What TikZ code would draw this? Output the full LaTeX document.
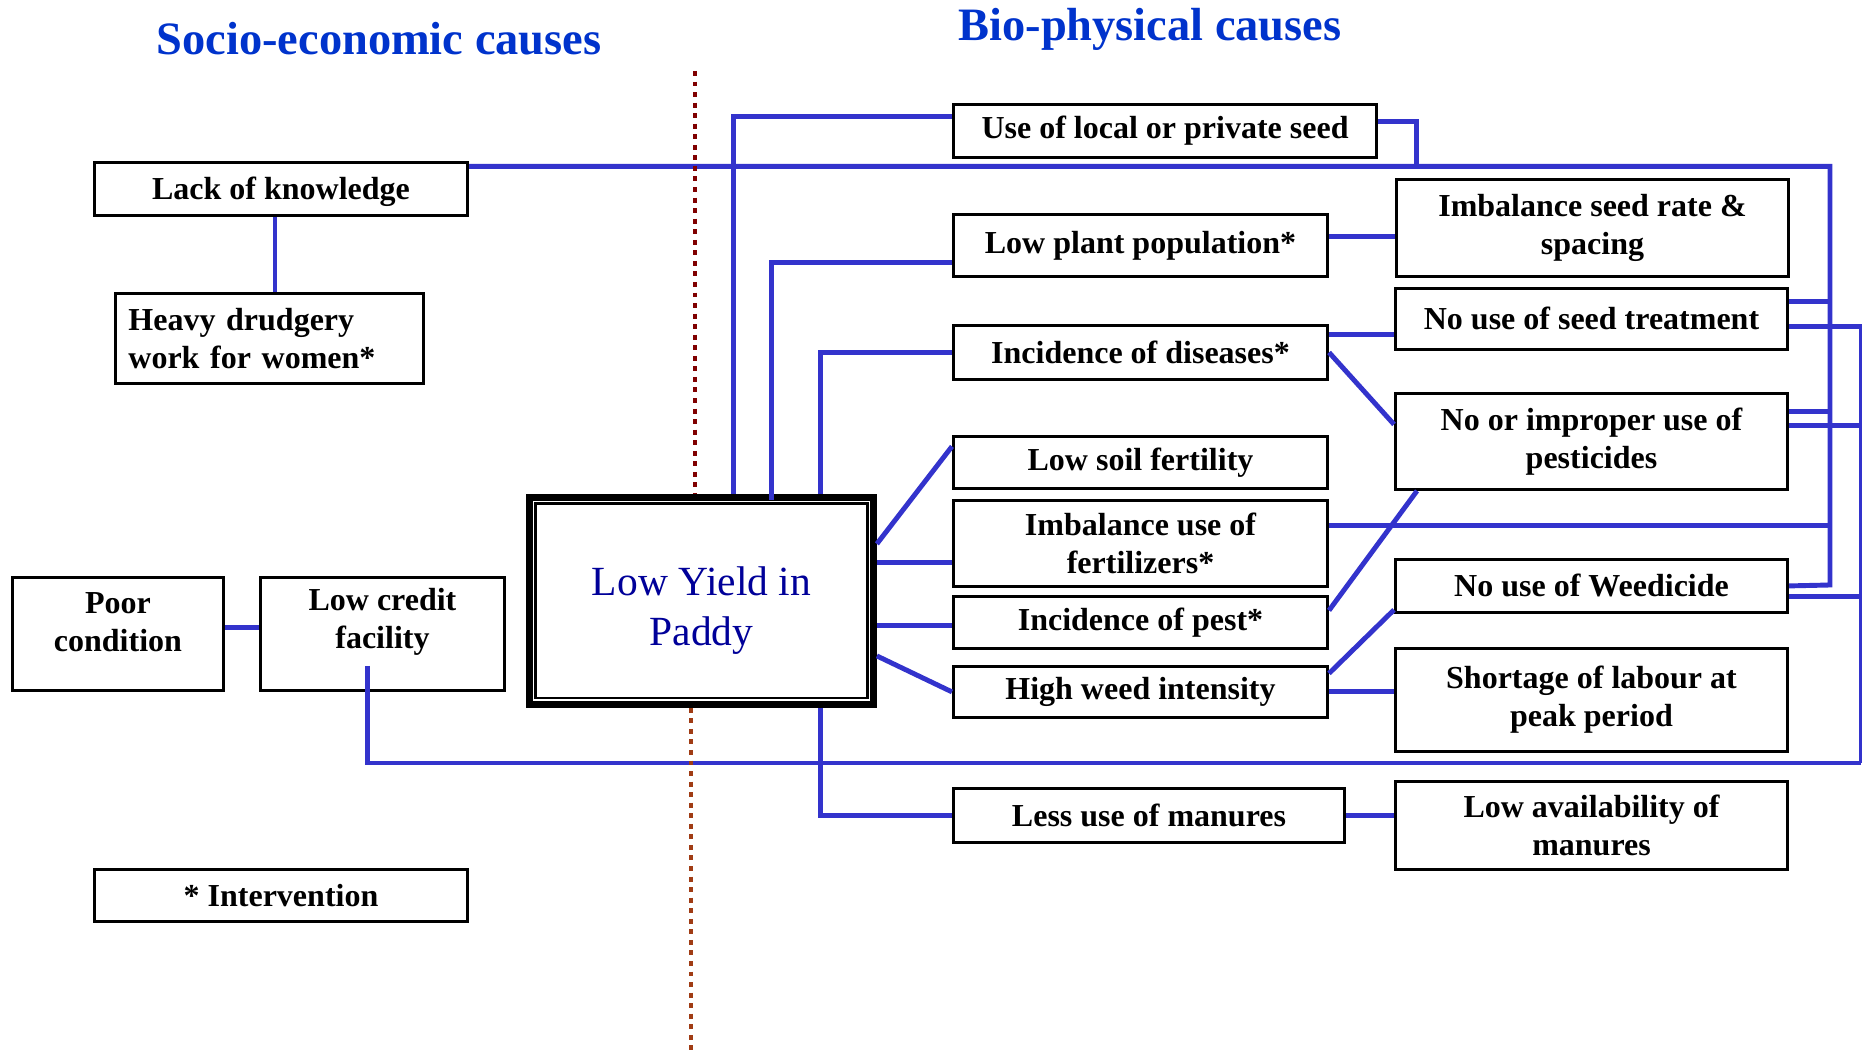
\documentclass[tikz,border=0pt]{standalone}
\usepackage{fontspec}
\setmainfont{Liberation Serif}
\usetikzlibrary{positioning,calc}

\definecolor{linkblue}{RGB}{51,51,204}
\definecolor{titleblue}{RGB}{0,51,204}
\definecolor{yieldblue}{RGB}{0,0,153}
\definecolor{maroondiv}{RGB}{128,0,0}
\definecolor{rustdiv}{RGB}{160,60,20}

\tikzset{
  boxtext/.style={align=center, inner sep=0pt, font=\fontsize{9.1pt}{10.8pt}\selectfont\bfseries},
  box/.style={draw, line width=0.8pt, fill=white, boxtext, anchor=north west},
  yieldtext/.style={align=center, inner sep=0pt, text=yieldblue, font=\fontsize{11.8pt}{14.2pt}\selectfont},
  yieldbox/.style={draw, line width=1.9pt, fill=white, anchor=north west},
  link/.style={linkblue, line width=1.4pt},
  divider/.style={line width=1.1pt, dash pattern=on 1.4pt off 1.6pt},
  heading/.style={titleblue, font=\fontsize{13.2pt}{15pt}\selectfont\bfseries},
}

\begin{document}
\begin{tikzpicture}[x=0.01cm, y=-0.01cm]
  \useasboundingbox (0,0) rectangle (1862,1052);

  % headings
  \node[heading] (socio) at (379,39) {Socio-economic causes};
  \node[heading] (bio) at (1150,29) {Bio-physical causes};

  \coordinate (divtop) at (695,71);
  \coordinate (divbot) at (691,1052);
  \coordinate (busA) at (1830,585);
  \coordinate (busB) at (1861,763);

  % socio-economic side
  \node[box, minimum width=3.73cm, minimum height=0.53cm, text depth=0.02cm] (know) at (93,161) {Lack of knowledge};
  \node[box, minimum width=3.08cm, minimum height=0.90cm, align=left, text width=2.82cm,
    inner xsep=0.13cm] (drudge) at (114,292) {Heavy drudgery\\work for women*};
  \node[box, minimum width=2.11cm, minimum height=1.13cm,
    label={[boxtext, yshift=0.12cm]center:{Poor\\condition}}] (poor) at (11,576) {};
  \node[box, minimum width=2.44cm, minimum height=1.13cm,
    label={[boxtext, yshift=0.12cm]center:{Low credit\\facility}}] (credit) at (259,576) {};
  \node[box, minimum width=3.73cm, minimum height=0.52cm] (interv) at (93,868) {* Intervention};

  % central problem
  \node[yieldbox, minimum width=3.44cm, minimum height=2.07cm,
    label={[yieldtext, yshift=-0.1cm]center:{Low Yield in\\Paddy}}] (yield) at (526,494) {};
  \draw[line width=0.65pt] ([shift={(0.095cm,-0.095cm)}]yield.north west)
    rectangle ([shift={(-0.095cm,0.095cm)}]yield.south east);

  % bio-physical causes
  \node[box, minimum width=4.23cm, minimum height=0.53cm] (seed) at (952,103) {Use of local or private seed};
  \node[box, minimum width=3.74cm, minimum height=0.62cm] (plant) at (952,213) {Low plant population*};
  \node[box, minimum width=3.74cm, minimum height=0.54cm] (disease) at (952,324) {Incidence of diseases*};
  \node[box, minimum width=3.74cm, minimum height=0.52cm] (soil) at (952,435) {Low soil fertility};
  \node[box, minimum width=3.74cm, minimum height=0.86cm] (fert) at (952,499) {Imbalance use of\\fertilizers*};
  \node[box, minimum width=3.74cm, minimum height=0.52cm] (pest) at (952,595) {Incidence of pest*};
  \node[box, minimum width=3.74cm, minimum height=0.51cm] (weed) at (952,665) {High weed intensity};
  \node[box, minimum width=3.91cm, minimum height=0.54cm] (manure) at (952,787) {Less use of manures};

  \node[box, minimum width=3.92cm, minimum height=0.97cm] (seedrate) at (1395,178) {Imbalance seed rate \&\\spacing};
  \node[box, minimum width=3.92cm, minimum height=0.61cm] (treat) at (1394,287) {No use of seed treatment};
  \node[box, minimum width=3.92cm, minimum height=0.96cm] (pesticide) at (1394,392) {No or improper use of\\pesticides};
  \node[box, minimum width=3.92cm, minimum height=0.53cm] (weedicide) at (1394,558) {No use of Weedicide};
  \node[box, minimum width=3.92cm, minimum height=1.03cm] (labour) at (1394,647) {Shortage of labour at\\peak period};
  \node[box, minimum width=3.92cm, minimum height=0.88cm] (avail) at (1394,780) {Low availability of\\manures};

  % links on the left
  \draw[link] ([xshift=-.06cm]know.south) -- ([xshift=-.06cm]know.south |- drudge.north);
  \draw[link] ([yshift=.065cm]poor.east) -- ([yshift=.065cm]poor.east -| credit.west);
  \draw[link] ([xshift=-.15cm,yshift=.26cm]credit.south) |- (busB);

  % long lines to the right
  \draw[link] ([yshift=.225cm]know.east) -| (busA) -- (weedicide.east);
  \draw[link] ([yshift=.095cm]seed.east) -| ([xshift=.38cm,yshift=.225cm]seed.east |- know.east);
  \draw[link] ([yshift=.175cm]treat.east) -| (busA);
  \draw[link] ([yshift=.30cm]pesticide.east) -| (busA);
  \draw[link] ([yshift=.18cm]fert.east) -| (busA);
  \draw[link] ([yshift=-.075cm]treat.east) -| (busB);
  \draw[link] ([yshift=.16cm]pesticide.east) -| (busB);
  \draw[link] ([yshift=-.105cm]weedicide.east) -| (busB);

  % yield to first causes
  \draw[link] ([xshift=.32cm]yield.north) |- ([yshift=.145cm]seed.west);
  \draw[link] ([xshift=.70cm,yshift=-.06cm]yield.north) |- ([yshift=-.17cm]plant.west);
  \draw[link] ([xshift=1.19cm]yield.north) |- (disease.west);
  \draw[link] ([yshift=.57cm]yield.east) -- ([yshift=.16cm]soil.west);
  \draw[link] ([yshift=.38cm]yield.east) -- ([yshift=.38cm]yield.east -| fert.west);
  \draw[link] ([yshift=-.25cm]yield.east) -- ([yshift=-.25cm]yield.east -| pest.west);
  \draw[link] ([yshift=-.55cm]yield.east) -- (weed.west);
  \draw[link] ([xshift=1.19cm]yield.south) |- (manure.west);

  % second level causes
  \draw[link] ([yshift=.09cm]plant.east) -- ([yshift=.09cm]plant.east -| seedrate.west);
  \draw[link] ([yshift=.18cm]disease.east) -- ([yshift=.18cm]disease.east -| treat.west);
  \draw[link] (disease.east) -- ([yshift=.17cm]pesticide.west);
  \draw[link] ([xshift=.23cm]pesticide.south west) -- ([yshift=.12cm]pest.east);
  \draw[link] ([yshift=.04cm]weedicide.south west) -- ([yshift=.185cm]weed.east);
  \draw[link] (weed.east) -- (weed.east -| labour.west);
  \draw[link] (manure.east) -- (manure.east -| avail.west);

  % dividing line
  \draw[divider, maroondiv] (divtop) -- (divtop |- yield.north);
  \draw[divider, rustdiv] (divbot |- yield.south) -- (divbot);
\end{tikzpicture}
\end{document}
